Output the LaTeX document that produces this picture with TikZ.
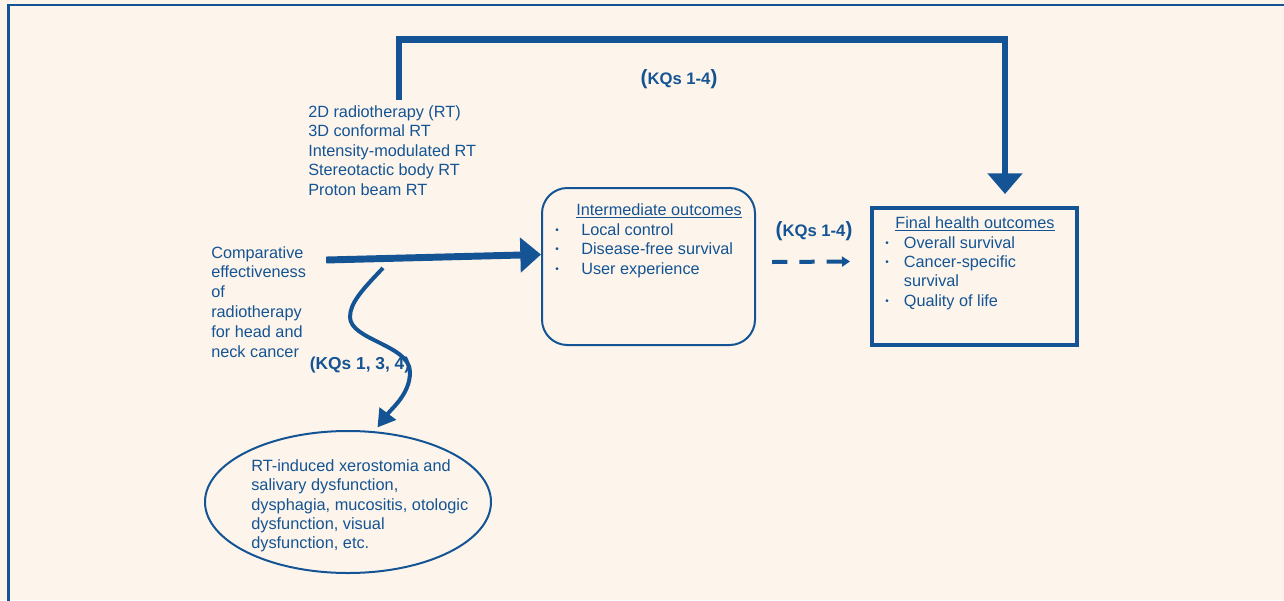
\documentclass[tikz,border=0pt]{standalone}
\usepackage{fontspec}
\setmainfont{Liberation Sans}
\usetikzlibrary{arrows.meta,shapes.geometric,calc}

\definecolor{ahrqblue}{RGB}{20,84,148}
\definecolor{ahrqcream}{RGB}{253,245,235}

\newcommand{\bul}[1]{\makebox[#1][l]{\raisebox{1.4pt}{\fontsize{7.5}{7.5}\selectfont\textbullet}}}
\newcommand{\bigparen}[1]{{\fontsize{15.5}{16}\selectfont#1}}

\begin{document}
\begin{tikzpicture}[x=0.75pt, y=-0.75pt, >=Stealth,
  every node/.style={text=ahrqblue, inner sep=0pt},
  txt/.style={font=\fontsize{12.2}{14.7}\selectfont, align=left, anchor=north west},
  kq/.style={font=\fontsize{12.5}{15}\selectfont\bfseries},
  bigarrow/.style={draw=ahrqblue, line width=5.2pt, -{Triangle[width=25.5pt,length=15.5pt]}},
  dasharrow/.style={draw=ahrqblue, line width=3pt, dash pattern=on 11.5pt off 9pt, -{Triangle[width=7.5pt,length=6pt]}},
  wavyarrow/.style={draw=ahrqblue, line width=3pt, -{Triangle[width=15pt,length=13pt]}}]

% Background and frame
\fill[ahrqcream] (0,0) rectangle (1284,600);
\useasboundingbox (0,0) rectangle (1284,600);
\clip (0,0) rectangle (1284,600);
\draw[ahrqblue, line width=2pt] (8.7,620) -- (8.7,5) -- (1300,5);

% Interventions and population
\node[txt] (treat) at (308,105) {2D radiotherapy (RT)\\3D conformal RT\\Intensity-modulated RT\\Stereotactic body RT\\Proton beam RT};
\node[txt, font=\fontsize{12.2}{14.85}\selectfont] (comp) at (211,246) {Comparative\\effectiveness\\of\\radiotherapy\\for head and\\neck cancer};

% Intermediate outcomes box
\node[draw=ahrqblue, line width=1.5pt, rounded corners=19pt, minimum width=159.75pt, minimum height=117.75pt] (interm) at (648.5,266.5) {};
\node[anchor=base, font=\fontsize{12.2}{14.7}\selectfont] (intermtitle) at (659,215) {\underline{Intermediate outcomes}};
\node[txt] (intermlist) at (555,223) {\bul{19.5pt}Local control\\\bul{19.5pt}Disease-free survival\\\bul{19.5pt}User experience};

% Final health outcomes box
\node[draw=ahrqblue, line width=3pt, minimum width=153.75pt, minimum height=102.75pt] (final) at (974.5,276.5) {};
\node[anchor=base, font=\fontsize{12.2}{14.7}\selectfont] (finaltitle) at (975,228) {\underline{Final health outcomes}};
\node[txt, font=\fontsize{12.2}{14.5}\selectfont] (finallist) at (885,236) {\bul{14pt}Overall survival\\\bul{14pt}Cancer-specific\\\hspace*{14pt}survival\\\bul{14pt}Quality of life};

% Adverse effects ellipse
\node[ellipse, draw=ahrqblue, line width=1.5pt, minimum width=214.5pt, minimum height=106.5pt] (side) at (348,502) {};
\node[txt, font=\fontsize{12.25}{14.6}\selectfont] (sidetext) at (251,459) {RT-induced xerostomia and\\salivary dysfunction,\\dysphagia, mucositis, otologic\\dysfunction, visual\\dysfunction, etc.};

% Key question labels
\node[kq] (kqtop) at (679,79) {\bigparen{(}KQs 1-4\bigparen{)}};
\node[kq] (kqmid) at (814,231) {\bigparen{(}KQs 1-4\bigparen{)}};
\node[kq, font=\fontsize{13}{15}\selectfont\bfseries] (kqside) at (360,365) {(KQs 1, 3, 4)};

% Arrows
\coordinate (tcorner) at (1005,39.5);
\draw[bigarrow] ($(treat.north west)+(91,-5)$) |- (tcorner) -- ($(tcorner |- final.north)+(0,-12)$);
\draw[bigarrow] ($(comp.north east)+(20,14)$) -- ($(interm.west)+(0,-12)$);
\draw[dasharrow] ($(interm.east)+(16,-4.5)$) -- ($(final.west)+(-20,-15)$);

\coordinate (wstart) at (383,268);
\draw[wavyarrow] (wstart) .. controls (362,290) and (350,303) .. (350,317)
  .. controls (350,340) and (410,345) .. (410,372)
  .. controls (410,394) and (392,408) .. ($(side.68)+(1,-4)$);

\end{tikzpicture}
\end{document}
